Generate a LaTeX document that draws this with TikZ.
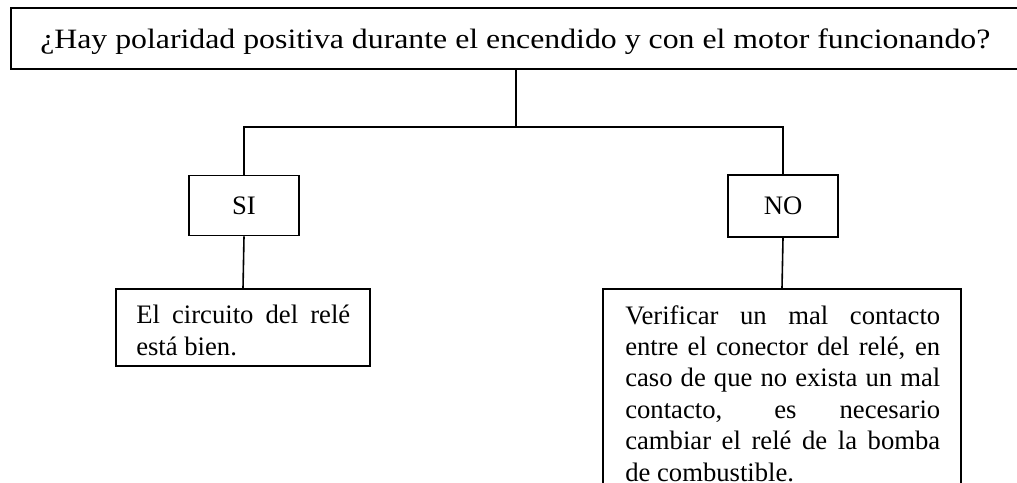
\documentclass[tikz,border=0pt]{standalone}
\usepackage{fontspec}
\setmainfont{Liberation Serif}
\usepackage{graphicx}
\def\PX{0.75pt}
\newcommand\bodyfont{\fontsize{20}{23.6}\selectfont}
\tikzset{
  box/.style={draw, line width=1.2pt, rectangle, inner sep=0pt, fill=white},
  txt/.style={inner sep=0pt, align=justify, anchor=north west, font=\bodyfont},
  conn/.style={line width=1.2pt},
}
\begin{document}
\begin{tikzpicture}[x=0.75pt,y=-0.75pt]
\useasboundingbox (0,0) rectangle (1017,482);
\clip (0,0) rectangle (1017,482);
\fill[white] (0,0) rectangle (1017,482);
% question box (right side extends beyond the picture)
\node[box, minimum width=1030*\PX, minimum height=61*\PX] (q) at (526,38.5) {};
\node[inner sep=0pt, anchor=base west] (qt) at (40,48.5)
  {\resizebox{712.5pt}{\height}{\fontsize{21}{24}\selectfont ¿Hay polaridad positiva durante el encendido y con el motor funcionando?}};
% answer boxes
\node[box, minimum width=110*\PX, minimum height=60*\PX, font=\bodyfont] (si) at (244,205.5) {SI};
\node[box, minimum width=110*\PX, minimum height=62*\PX, font=\bodyfont] (no) at (783,206) {NO};
% result boxes
\node[box, minimum width=254*\PX, minimum height=77*\PX] (ok) at (243,327.5) {};
\node[txt, text width=214*\PX] (okt) at (136,305) {\hyphenpenalty=10000\relax\tolerance=10000\relax El circuito del relé\linebreak está bien.};
\node[box, minimum width=358*\PX, minimum height=261*\PX] (chk) at (782,419.5) {};
\node[txt, text width=315*\PX] (chkt) at (625,305) {\hyphenpenalty=10000\relax\tolerance=10000\relax Verificar un mal contacto\linebreak entre el conector del relé, en\linebreak caso de que no exista un mal\linebreak contacto, es necesario\linebreak cambiar el relé de la bomba\linebreak de combustible.};
% connectors
\coordinate (j) at (516,127);
\draw[conn] (q.south -| j) -- (j);
\draw[conn] (si.north) -- (si.north |- j) -- (no.north |- j) -- (no.north);
\draw[conn] (si.south) -- (ok.north);
\draw[conn] (no.south) -- (chk.north);
\end{tikzpicture}
\end{document}
